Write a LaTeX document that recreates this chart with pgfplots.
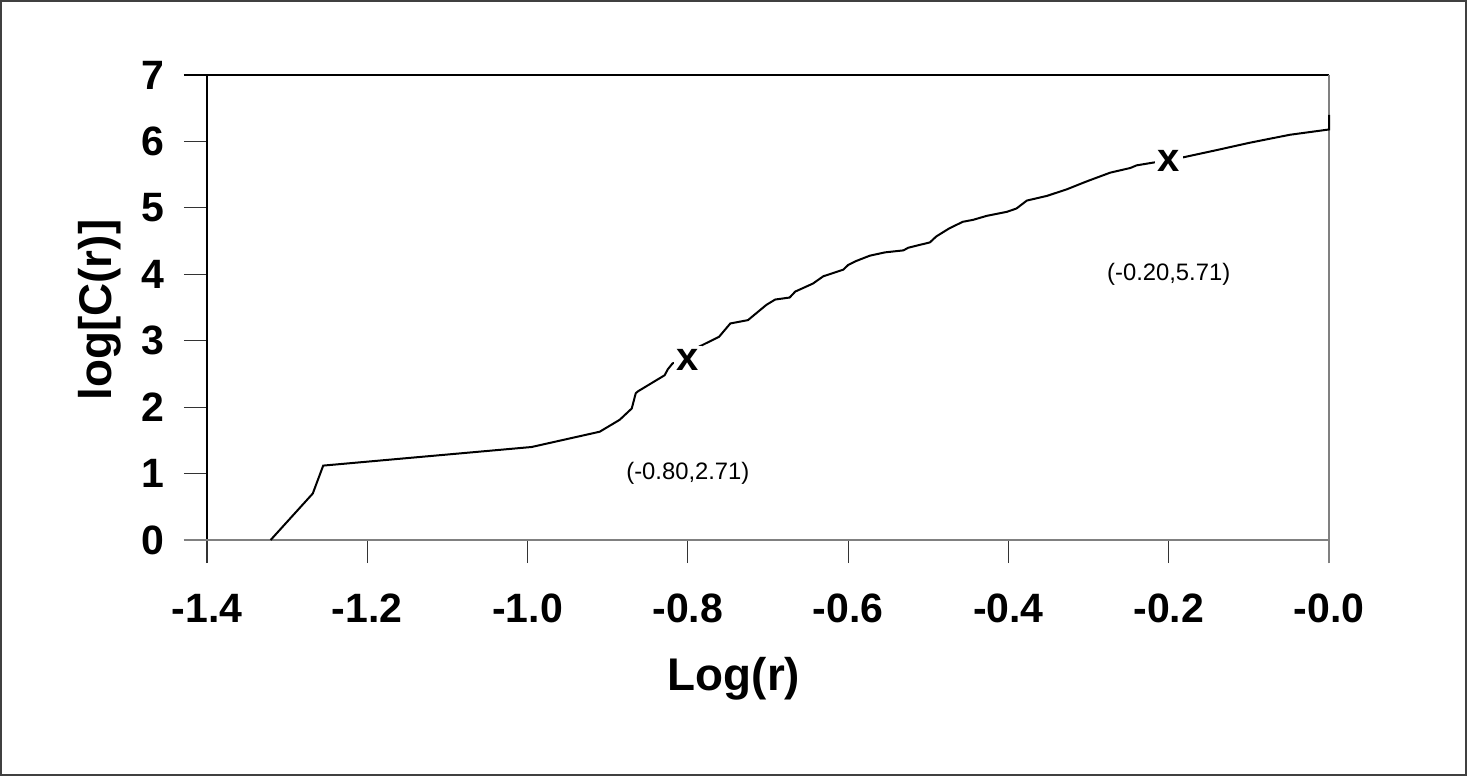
\documentclass[border=0pt]{standalone}
\usepackage{fontspec}
\setmainfont{Liberation Sans}
\usepackage{pgfplots}
\pgfplotsset{compat=1.18}
\definecolor{frameGray}{RGB}{64,64,64}
\definecolor{axisGray}{RGB}{128,128,128}

\begin{document}
\begin{tikzpicture}
    % page = 1467 x 776 px, 1 px = 0.5pt, axis box SW corner at px (207,540)
    \useasboundingbox (-103.5pt,-118pt) rectangle (630pt,270pt);
    \draw[frameGray, line width=1pt] (-103pt,-117.5pt) rectangle (629.5pt,269.5pt);
    \begin{axis}[
        at={(0pt,0pt)}, anchor=south west,
        scale only axis,
        width=561pt, height=232.5pt,
        xmin=-1.4, xmax=0, ymin=0, ymax=7,
        axis x line*=bottom, axis y line*=left,
        x axis line style={axisGray, line width=1pt},
        y axis line style={black, line width=0.8pt},
        xtick={-1.4,-1.2,-1.0,-0.8,-0.6,-0.4,-0.2,0},
        xticklabels={-1.4,-1.2,-1.0,-0.8,-0.6,-0.4,-0.2,-0.0},
        ytick={0,1,...,7},
        tick align=outside,
        major tick length=11.5pt,
        tick style={black!80, line width=0.6pt},
        /pgf/number format/assume math mode=true,
        ticklabel style={font=\bfseries\fontsize{20.5}{23}\selectfont},
        xticklabel style={yshift=-12pt},
        yticklabel style={xshift=-6.5pt},
        clip=false,
    ]
        % extra frame lines
        \draw[black, line width=0.8pt] ([xshift=-11.5pt]rel axis cs:0,1) -- (rel axis cs:1,1);
        \draw[axisGray, line width=1pt] ([xshift=-11.5pt]rel axis cs:0,0) -- (rel axis cs:1,0);
        \draw[axisGray, line width=1pt] ([yshift=-11.5pt]rel axis cs:1,0) -- (rel axis cs:1,1);

        \addplot[black, line width=1pt, mark=none] coordinates {
            (-1.3206,0.00) (-1.268,0.70) (-1.255,1.12) (-0.995,1.40)
            (-0.910,1.63) (-0.885,1.81) (-0.870,1.98) (-0.865,2.21)
            (-0.862,2.24) (-0.829,2.48) (-0.825,2.57) (-0.819,2.66)
            (-0.800,2.71) (-0.786,2.91) (-0.761,3.06) (-0.747,3.26)
            (-0.725,3.31) (-0.702,3.54) (-0.691,3.62) (-0.673,3.65)
            (-0.666,3.74) (-0.644,3.86) (-0.631,3.97) (-0.606,4.07)
            (-0.600,4.14) (-0.590,4.20) (-0.573,4.28) (-0.554,4.33)
            (-0.531,4.36) (-0.525,4.40) (-0.498,4.48) (-0.490,4.57)
            (-0.474,4.69) (-0.457,4.79) (-0.444,4.82) (-0.427,4.88)
            (-0.402,4.94) (-0.390,4.99) (-0.377,5.11) (-0.352,5.18)
            (-0.327,5.28) (-0.302,5.40) (-0.273,5.53) (-0.248,5.60)
            (-0.240,5.64) (-0.215,5.69) (-0.200,5.71) (-0.186,5.75)
            (-0.140,5.87) (-0.099,5.98) (-0.049,6.10) (0.000,6.18)
            (0.000,6.40)
        };

        % marked points
        \node[fill=white, inner sep=1.5pt, font=\bfseries\fontsize{20}{22}\selectfont]
            at (axis cs:-0.80,2.71) {x};
        \node[fill=white, inner sep=1.5pt, font=\bfseries\fontsize{20}{22}\selectfont]
            at (axis cs:-0.20,5.71) {x};
        \node[font=\fontsize{11.9}{14}\selectfont] at (axis cs:-0.80,1.00) {(-0.80,2.71)};
        \node[font=\fontsize{11.9}{14}\selectfont] at (axis cs:-0.20,4.00) {(-0.20,5.71)};

        % axis titles
        \node[font=\bfseries\fontsize{22.9}{26}\selectfont, anchor=base]
            at (axis description cs:0.4697,-0.3226) {Log(r)};
        \node[font=\bfseries\fontsize{22.9}{26}\selectfont, rotate=90]
            at (axis description cs:-0.0954,0.4946) {log[C(r)]};
    \end{axis}
\end{tikzpicture}
\end{document}
